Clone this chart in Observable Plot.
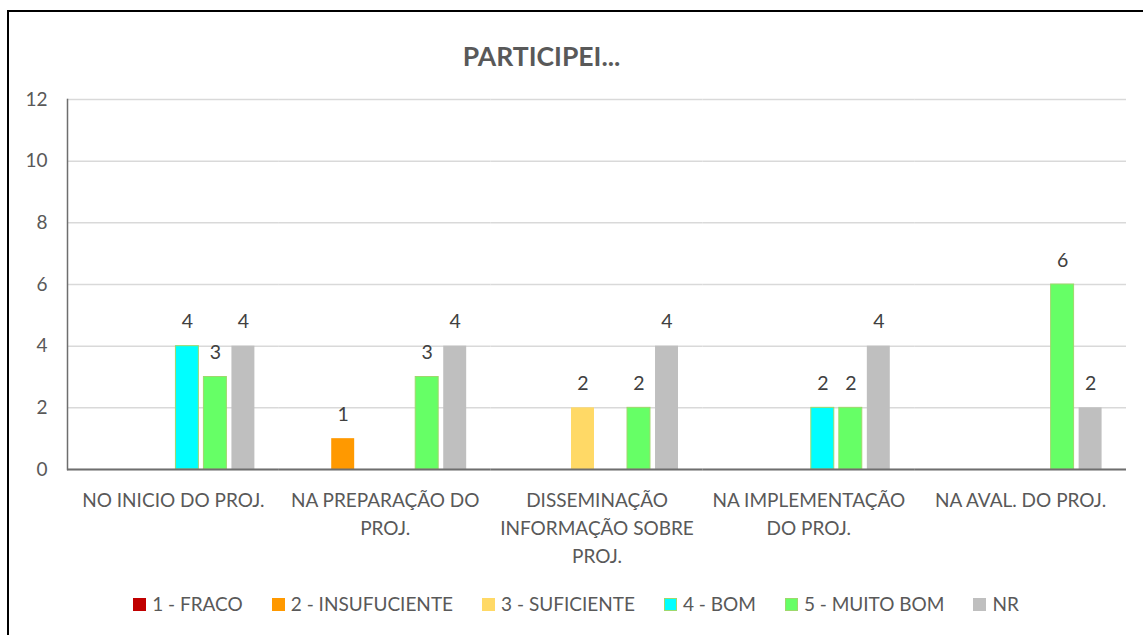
<!DOCTYPE html>
<html>
<head>
<meta charset="utf-8">
<script src="https://cdn.jsdelivr.net/npm/d3@7"></script>
<script src="https://cdn.jsdelivr.net/npm/@observablehq/plot@0.6"></script>
<style>
  html, body { margin: 0; padding: 0; background: #fff; overflow: hidden; width: 1143px; height: 635px; }
  #frame { position: absolute; left: 7px; top: 10px; width: 1200px; height: 700px; border-left: 2px solid #000; border-top: 2px solid #000; }
  #title { position: absolute; left: 0; top: 40px; width: 1083px; text-align: center; font-family: Lato, sans-serif; font-weight: bold; font-size: 26.5px; color: #595959; }
  #chart { position: absolute; left: 0; top: 80px; }
  #legend { position: absolute; left: 0; top: 593px; width: 1152px; display: flex; justify-content: center; gap: 29px; font-family: Lato, sans-serif; font-size: 19px; color: #595959; line-height: 22px; }
  #legend .item { display: flex; align-items: center; }
  #legend .sw { width: 13px; height: 13px; margin-right: 6px; box-sizing: border-box; }
</style>
</head>
<body>
<div id="frame"></div>
<div id="title">PARTICIPEI...</div>
<div id="chart"></div>
<div id="legend"></div>
<script>
const categories = ["NO INICIO DO PROJ.", "NA PREPARAÇÃO DO PROJ.", "DISSEMINAÇÃO INFORMAÇÃO SOBRE PROJ.", "NA IMPLEMENTAÇÃO DO PROJ.", "NA AVAL. DO PROJ."];
const tickLabels = ["NO INICIO DO PROJ.", "NA PREPARAÇÃO DO\nPROJ.", "DISSEMINAÇÃO\nINFORMAÇÃO SOBRE\nPROJ.", "NA IMPLEMENTAÇÃO\nDO PROJ.", "NA AVAL. DO PROJ."];
const series = ["1 - FRACO", "2 - INSUFUCIENTE", "3 - SUFICIENTE", "4 - BOM", "5 - MUITO BOM", "NR"];
const colors = ["#C00000", "#FF9900", "#FFD966", "#00FFFF", "#66FF66", "#BFBFBF"];
const outlined = ["4 - BOM", "5 - MUITO BOM"];
const fraco    = [null, null, null, null, null];
const insuf    = [null, 1, null, null, null];
const suf      = [null, null, 2, null, null];
const bom      = [4, null, null, 2, null];
const muitoBom = [3, 3, 2, 2, 6];
const nr       = [4, 4, 4, 4, 2];
const yTicks = [0, 2, 4, 6, 8, 10, 12];

const seriesValues = [fraco, insuf, suf, bom, muitoBom, nr];
const table = categories.flatMap((c, i) =>
  series.map((s, j) => ({category: c, series: s, value: seriesValues[j][i]}))
).filter(d => d.value != null);

const chart = Plot.plot({
  width: 1143,
  height: 489,
  marginLeft: 67,
  marginRight: 17,
  marginTop: 19,
  marginBottom: 100,
  style: {fontFamily: "Lato, sans-serif", fontSize: "19px", color: "#595959", background: "transparent", overflow: "visible"},
  fx: {domain: categories, padding: 0, round: false, label: null},
  x: {domain: series, paddingInner: 0.18, paddingOuter: 0.872, round: false, axis: null},
  y: {domain: [0, 12], label: null},
  color: {domain: series, range: colors},
  marks: [
    Plot.gridY(yTicks, {stroke: "#D9D9D9", strokeOpacity: 1, strokeWidth: 1.5}),
    Plot.axisY(yTicks, {tickSize: 0, tickPadding: 20, label: null, fill: "#595959", fontSize: 19}),
    Plot.axisFx({anchor: "bottom", tickSize: 0, tickPadding: 18, label: null, lineHeight: 1.47, fill: "#595959", fontSize: 19,
      tickFormat: d => tickLabels[categories.indexOf(d)]}),
    Plot.barY(table, {fx: "category", x: "series", y: "value", fill: "series"}),
    Plot.barY(table, {fx: "category", x: "series", y: "value", fill: "none", stroke: "#9ED86C", strokeWidth: 1,
      filter: d => outlined.includes(d.series)}),
    Plot.text(table, {fx: "category", x: "series", y: "value", text: d => String(d.value), lineAnchor: "middle", dy: -24, fill: "#404040", fontSize: 19.5}),
    Plot.ruleY([0], {stroke: "#6E6E6E", strokeWidth: 2}),
    Plot.frame({anchor: "left", facetAnchor: "left", stroke: "#6E6E6E", strokeWidth: 1.5})
  ]
});
document.getElementById("chart").appendChild(chart);

const legend = document.getElementById("legend");
series.forEach((s, j) => {
  const item = document.createElement("div");
  item.className = "item";
  const sw = document.createElement("span");
  sw.className = "sw";
  sw.style.background = colors[j];
  if (outlined.includes(s)) sw.style.border = "1px solid #9ED86C";
  const label = document.createElement("span");
  label.textContent = s;
  item.appendChild(sw);
  item.appendChild(label);
  legend.appendChild(item);
});
</script>
</body>
</html>
